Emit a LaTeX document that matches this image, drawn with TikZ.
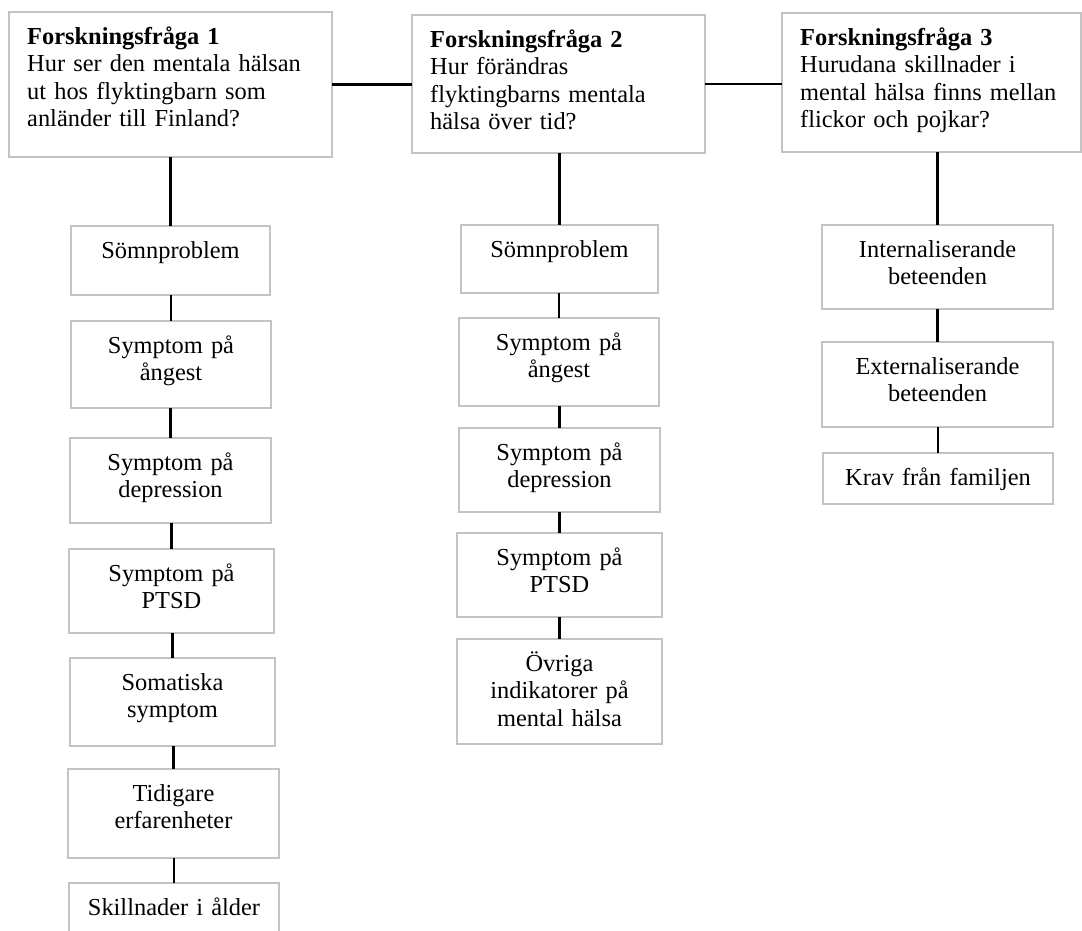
\documentclass[tikz,border=0pt]{standalone}
\usepackage{fontspec}
\setmainfont{Liberation Serif}
\definecolor{boxgray}{RGB}{195,195,195}
\tikzset{
  box/.style={draw=boxgray, line width=1.6pt, fill=white, inner sep=0pt, outer sep=0pt, anchor=north west},
  txt/.style={inner sep=0pt, text width=230pt, align=center, font=\fontsize{24.4pt}{27.5pt}\selectfont},
  qtxt/.style={inner sep=0pt, text width=300pt, align=left, font=\fontsize{24.4pt}{27.5pt}\selectfont},
  conn/.style={draw=black, line width=2.6pt}
}
\newcommand\bx[6]{%
  \node[box, minimum width={(#4-#2)*1pt}, minimum height={(#5-#3)*1pt}] (#1) at (#2,#3) {};
  \node[txt, anchor=base] (#1t) at ([yshift=-32pt]#1.north) {#6};
}
\newcommand\qbx[6]{%
  \node[box, minimum width={(#4-#2)*1pt}, minimum height={(#5-#3)*1pt}] (#1) at (#2,#3) {};
  \node[qtxt, anchor=base west] (#1t) at ([xshift=18pt,yshift=-32pt]#1.north west) {#6};
}
\newcommand\vlink[2]{\draw[conn] (#2.north) -- (#2.north |- #1.south);}
\begin{document}
\begin{tikzpicture}[x=1pt, y=-1pt]
\useasboundingbox (0,0) rectangle (1082,930);
\clip (0,0) rectangle (1082,930);
\fill[white] (0,0) rectangle (1082,930);
% question boxes
\qbx{f1}{9}{12}{332}{157}{\textbf{Forskningsfråga 1}\\Hur ser den mentala hälsan\\ut hos flyktingbarn som\\anländer till Finland?}
\qbx{f2}{412}{15}{705}{153}{\textbf{Forskningsfråga 2}\\Hur förändras\\flyktingbarns mentala\\hälsa över tid?}
\qbx{f3}{782}{13}{1081}{152}{\textbf{Forskningsfråga 3}\\Hurudana skillnader i\\mental hälsa finns mellan\\flickor och pojkar?}
% column 1
\bx{a1}{71}{226}{270}{295}{Sömnproblem}
\bx{a2}{71}{321}{271}{408}{Symptom på\\ångest}
\bx{a3}{70}{438}{271}{523}{Symptom på\\depression}
\bx{a4}{69}{549}{274}{633}{Symptom på\\PTSD}
\bx{a5}{70}{658}{275}{746}{Somatiska\\symptom}
\bx{a6}{68}{769}{279}{858}{Tidigare\\erfarenheter}
\bx{a7}{69}{883}{279}{960}{Skillnader i ålder}
% column 2
\bx{b1}{461}{225}{658}{293}{Sömnproblem}
\bx{b2}{459}{318}{659}{406}{Symptom på\\ångest}
\bx{b3}{459}{428}{660}{512}{Symptom på\\depression}
\bx{b4}{457}{533}{662}{617}{Symptom på\\PTSD}
\bx{b5}{457}{639}{662}{744}{Övriga\\indikatorer på\\mental hälsa}
% column 3
\bx{c1}{822}{225}{1053}{309}{Internaliserande\\beteenden}
\bx{c2}{822}{342}{1053}{427}{Externaliserande\\beteenden}
\bx{c3}{823}{453}{1053}{504}{Krav från familjen}
% connectors
\draw[conn] (f1.east) -- (f2.west |- f1.east);
\draw[conn] (f2.east) -- (f3.west |- f2.east);
\vlink{f1}{a1}
\vlink{a1}{a2}
\vlink{a2}{a3}
\vlink{a3}{a4}
\vlink{a4}{a5}
\vlink{a5}{a6}
\vlink{a6}{a7}
\vlink{f2}{b1}
\vlink{b1}{b2}
\vlink{b2}{b3}
\vlink{b3}{b4}
\vlink{b4}{b5}
\vlink{f3}{c1}
\vlink{c1}{c2}
\vlink{c2}{c3}
\end{tikzpicture}
\end{document}
